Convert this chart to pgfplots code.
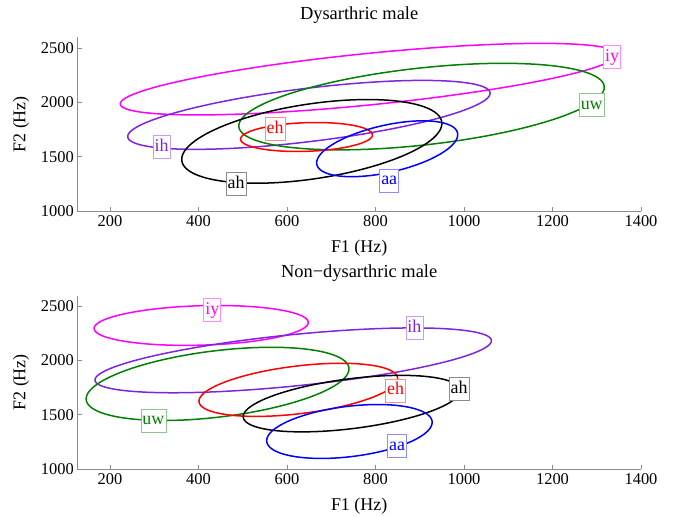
\documentclass[border=0pt]{standalone}
\usepackage{fontspec}
\setmainfont{Liberation Serif}
\usepackage{pgfplots}
\pgfplotsset{compat=1.18}
\definecolor{cmag}{rgb}{1,0,1}
\definecolor{cpur}{rgb}{0.49,0.15,0.87}
\definecolor{cgrn}{rgb}{0,0.5,0}
\definecolor{cred}{rgb}{1,0,0}
\definecolor{cblu}{rgb}{0,0,1}
\definecolor{cblk}{rgb}{0,0,0}
% ellipse: centre (cx,cy), half width A, y-offset of rightmost point B, conjugate C
\newcommand{\ellip}[6]{\addplot[#6, line width=1.5bp, domain=0:360, samples=121, no marks]
  ({#1 + #3*cos(x)}, {#2 + #4*cos(x) + #5*sin(x)});}
\newcommand{\lab}[4]{\node[draw=#4!45, fill=white, text=#4, line width=0.6bp,
  font=\fontsize{18}{20}\selectfont, inner xsep=1.5bp, inner ysep=2.5bp,
  text height=13.5bp, text depth=4.5bp] at (axis cs:#1,#2) {#3};}
\pgfplotsset{
  myax/.style={
    scale only axis, width=563.7bp, height=173.5bp,
    xmin=126, xmax=1400, ymin=1000, ymax=2600,
    axis x line*=bottom, axis y line*=left,
    axis line style={-, draw=black!45, line width=0.8bp},
    tick style={draw=black!45, line width=0.8bp},
    tick align=inside, major tick length=4.5bp,
    xtick={200,400,...,1400}, ytick={1000,1500,2000,2500},
    /pgf/number format/assume math mode=true,
    /pgf/number format/set thousands separator={},
    tick label style={font=\fontsize{16.5}{18}\selectfont},
    xticklabel style={yshift=-1.5bp},
    label style={font=\fontsize{18}{20}\selectfont},
    xlabel={F1 (Hz)}, ylabel={F2 (Hz)},
    xlabel style={at={(axis description cs:0.5,-0.2404)}, anchor=base},
    ylabel style={at={(axis description cs:-0.0922,0.5)}, anchor=base},
    title style={font=\fontsize{18.5}{20}\selectfont, at={(axis description cs:0.5,1.0709)}, anchor=base},
    clip=false,
  }
}
\begin{document}
\begin{tikzpicture}
\useasboundingbox (-77.3bp,-306bp) rectangle (597.7bp,211bp);
\begin{axis}[myax, at={(0bp,0bp)}, anchor=south west, title={Dysarthric male}]
\ellip{785}{2216}{562}{228}{238.6}{cmag}
\ellip{649.5}{1886.5}{409.5}{199.5}{247.6}{cpur}
\ellip{904}{1963}{413}{178}{357.1}{cgrn}
\ellip{656}{1642}{294}{165.5}{348.7}{cblk}
\ellip{644}{1682.5}{149}{19.5}{132.1}{cred}
\ellip{826.4}{1574}{159.4}{130}{222.3}{cblu}
\lab{1334.5}{2423}{iy}{cmag}
\lab{1288.6}{1978}{uw}{cgrn}
\lab{316.8}{1589}{ih}{cpur}
\lab{484.7}{1251.6}{ah}{cblk}
\lab{572.9}{1755}{eh}{cred}
\lab{831}{1282}{aa}{cblu}
\end{axis}
\begin{axis}[myax, at={(0bp,-258bp)}, anchor=south west, title={Non−dysarthric male}]
\ellip{406}{2324}{242}{27.5}{181.9}{cmag}
\ellip{614}{2002}{448}{181}{238}{cpur}
\ellip{443}{1785}{297}{138}{308}{cgrn}
\ellip{625.5}{1730}{224.5}{104.5}{221.6}{cred}
\ellip{746}{1603}{245}{119.5}{231.5}{cblk}
\ellip{741}{1346}{187}{84.5}{233.7}{cblu}
\lab{431}{2466}{iy}{cmag}
\lab{887.7}{2300}{ih}{cpur}
\lab{297.9}{1448}{uw}{cgrn}
\lab{845.6}{1724}{eh}{cred}
\lab{988.7}{1739}{ah}{cblk}
\lab{849}{1212}{aa}{cblu}
\end{axis}
\end{tikzpicture}
\end{document}
